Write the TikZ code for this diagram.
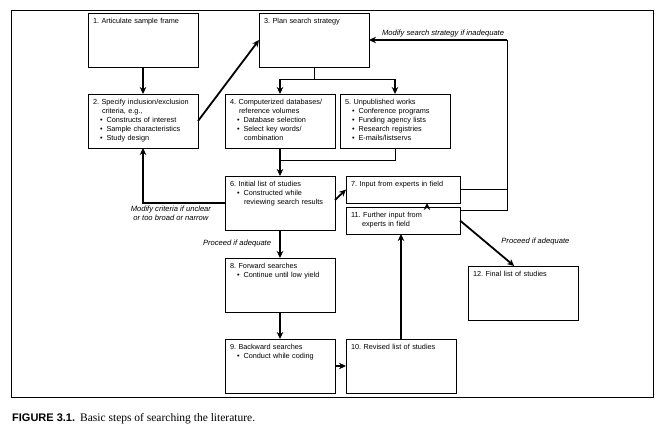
\documentclass[tikz,border=0pt]{standalone}
\usepackage{fontspec}
\setmainfont{Liberation Serif}
\setsansfont{Liberation Sans}
\usetikzlibrary{positioning, arrows.meta, calc}
\newcommand{\puce}{\hspace*{7pt}\textbullet\hspace{4pt}}
\newcommand{\suite}{\hspace*{14pt}}
\newcommand{\retrait}{\hspace*{9pt}}
\frenchspacing

\begin{document}
\begin{tikzpicture}[x=1pt, y=1pt,
    >={Stealth[length=7pt, width=6.5pt]},
    etape/.style={rectangle, draw, line width=0.9pt, align=left, outer sep=0pt,
                  font=\sffamily\fontsize{7.3}{9}\selectfont,
                  inner xsep=5pt, inner ysep=5pt, text width=100pt,
                  text height=5.5pt, text depth=38.5pt},
    petite/.style={etape, text width=104pt, text depth=11.5pt},
    fleche/.style={->, line width=1.8pt},
    trait/.style={line width=1pt},
    etiquette/.style={font=\sffamily\itshape\fontsize{7.6}{8.8}\selectfont,
                      align=center, inner sep=2pt}]
    \useasboundingbox (0,0) rectangle (659,-439);
    % cadre de la figure
    \draw[line width=1pt] (11,-10) rectangle (653,-397);
    % premiere rangee : cadre, criteres, strategie
    \node[etape, anchor=north west] (cadre) at (88,-13) {1. Articulate sample frame};
    \node[etape, right=61pt of cadre] (strategie) {3. Plan search strategy};
    \node[etape, below=27pt of cadre] (criteres) {2. Specify inclusion/exclusion\\\retrait criteria, e.g.,\\\puce Constructs of interest\\\puce Sample characteristics\\\puce Study design};
    \node[etape, right=27pt of criteres] (bases) {4. Computerized databases/\\\retrait reference volumes\\\puce Database selection\\\puce Select key words/\\\suite combination};
    \node[etape, right=5pt of bases] (inedits) {5. Unpublished works\\\puce Conference programs\\\puce Funding agency lists\\\puce Research registries\\\puce E-mails/listservs};
    % colonne centrale
    \node[etape, below=28pt of bases] (initiale) {6. Initial list of studies\\\puce Constructed while\\\suite reviewing search results};
    \node[petite, right=11pt of initiale.north east, anchor=north west] (experts) {7. Input from experts in field};
    \node[petite, below=4pt of experts] (complement) {11. Further input from\\\hspace*{11pt}experts in field};
    \node[etape, below=28pt of initiale] (avant) {8. Forward searches\\\puce Continue until low yield};
    \node[etape, below=27pt of avant] (arriere) {9. Backward searches\\\puce Conduct while coding};
    \node[etape, right=11pt of arriere] (revisee) {10. Revised list of studies};
    \node[etape, below right=32pt and 8pt of complement.south east] (finale) {12. Final list of studies};
    % fleches
    \draw[fleche] (cadre) -- (criteres);
    \draw[fleche] (criteres.east) -- (strategie.west);
    \coordinate (fourche) at ($(strategie.south)+(0,-12pt)$);
    \draw[trait] (strategie.south) -- (fourche);
    \draw[trait] (fourche -| bases.north) -- (fourche -| inedits.north);
    \draw[fleche] (fourche -| bases.north) -- (bases.north);
    \draw[fleche] (fourche -| inedits.north) -- (inedits.north);
    \coordinate (jonction) at ($(bases.south)+(0,-12pt)$);
    \draw[fleche] (bases) -- (initiale);
    \draw[trait] (inedits.south) |- (jonction);
    \draw[fleche] (initiale.west) -| node[etiquette, below, pos=0.33] {Modify criteria if unclear\\or too broad or narrow} (criteres.south);
    \draw[fleche] ($(initiale.east)+(0,3pt)$) -- (experts.west);
    % boucle de retour vers la strategie
    \coordinate (retour) at ($(experts.east)+(47pt,0)$);
    \coordinate (coude) at (retour |- strategie.east);
    \draw[trait] (experts.east) -- (retour) -- (coude);
    \draw[fleche] (coude) -- node[etiquette, above left, pos=0] {Modify search strategy if inadequate} (strategie.east);
    \draw[trait] ($(complement.north east)+(0,-3pt)$) -| (retour);
    \draw[fleche] ($(complement.north)+(24pt,0)$) -- ($(experts.south)+(24pt,0)$);
    \draw[fleche] (initiale) -- node[etiquette, left=6pt] {Proceed if adequate} (avant);
    \draw[fleche] (avant) -- (arriere);
    \draw[fleche] (arriere) -- (revisee);
    \draw[fleche] (revisee.north) -- (revisee.north |- complement.south);
    \draw[fleche] (complement.east) -- node[etiquette, pos=0.6, anchor=south west, xshift=6pt] {Proceed if adequate} ($(finale.north west)!0.42!(finale.north east)$);
    % legende
    \node[anchor=base west, inner sep=0pt] (legende) at (12,-421) {\sffamily\bfseries\fontsize{11}{13}\selectfont FIGURE 3.1.\hspace{5pt}\rmfamily\mdseries\fontsize{11.5}{13}\selectfont Basic steps of searching the literature.};
\end{tikzpicture}
\end{document}
